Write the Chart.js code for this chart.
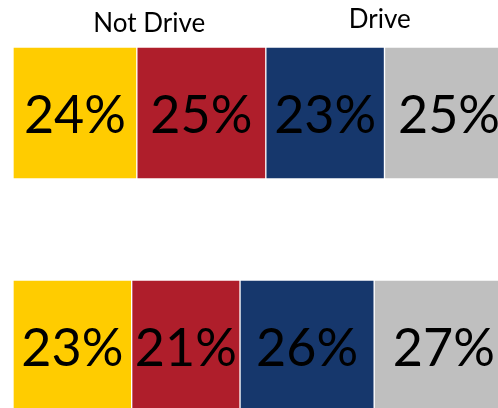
<!DOCTYPE html>
<html>
<head>
<meta charset="utf-8">
<script src="https://cdn.jsdelivr.net/npm/chart.js@4"></script>
<style>
  html, body { margin: 0; padding: 0; background: #fff; }
  #wrap { width: 498px; height: 408px; }
</style>
</head>
<body>
<div id="wrap"><canvas id="stack-chart"></canvas></div>
<script>
const rows = ['Top', 'Bottom'];
const seriesA = [24, 23];
const seriesB = [25, 21];
const seriesC = [23, 26];
const seriesD = [25, 27];
const headers = ['Not Drive', 'Drive'];

const colors = ['#FFCC00', '#AF1E2B', '#16376C', '#BFBFBF'];

// percentage text in the middle of every segment
const segmentLabels = {
  id: 'segmentLabels',
  afterDatasetsDraw(chart) {
    const ctx = chart.ctx;
    ctx.save();
    ctx.font = '52px Lato';
    ctx.fillStyle = '#000';
    ctx.textAlign = 'center';
    ctx.textBaseline = 'middle';
    chart.data.datasets.forEach((ds, i) => {
      chart.getDatasetMeta(i).data.forEach((bar, j) => {
        ctx.fillText(ds.data[j] + '%', (bar.x + bar.base) / 2, bar.y + 3);
      });
    });
    ctx.restore();
  }
};

// the two headers above the top bar
const headerLabels = {
  id: 'headerLabels',
  afterDraw(chart, args, opts) {
    const ctx = chart.ctx;
    const x = chart.scales.x;
    ctx.save();
    ctx.font = '26px Lato';
    ctx.fillStyle = '#000';
    ctx.textAlign = 'center';
    ctx.textBaseline = 'alphabetic';
    headers.forEach((h, i) => {
      ctx.fillText(h, x.getPixelForValue(opts.at[i]), opts.baseline[i]);
    });
    ctx.restore();
  }
};

let ctx = document.getElementById('stack-chart').getContext('2d');
let stackChart = new Chart(ctx, {
  type: 'bar',
  data: {
    labels: rows,
    datasets: [seriesA, seriesB, seriesC, seriesD].map((d, i) => ({
      data: d,
      backgroundColor: colors[i],
      borderColor: 'rgba(255,255,255,0.2)',
      borderWidth: 1,
      borderSkipped: false,
      barThickness: 132,
      clip: false
    }))
  },
  options: {
    indexAxis: 'y',
    responsive: true,
    maintainAspectRatio: false,
    animation: false,
    layout: {
      padding: { left: 13, right: 0, top: 113, bottom: 62 }
    },
    plugins: {
      legend: { display: false },
      tooltip: { enabled: false },
      headerLabels: { at: [26.4, 71.1], baseline: [32, 28] }
    },
    scales: {
      x: { stacked: true, min: 0, max: 94, display: false },
      y: { stacked: true, offset: false, display: false }
    }
  },
  plugins: [segmentLabels, headerLabels]
});
</script>
</body>
</html>
